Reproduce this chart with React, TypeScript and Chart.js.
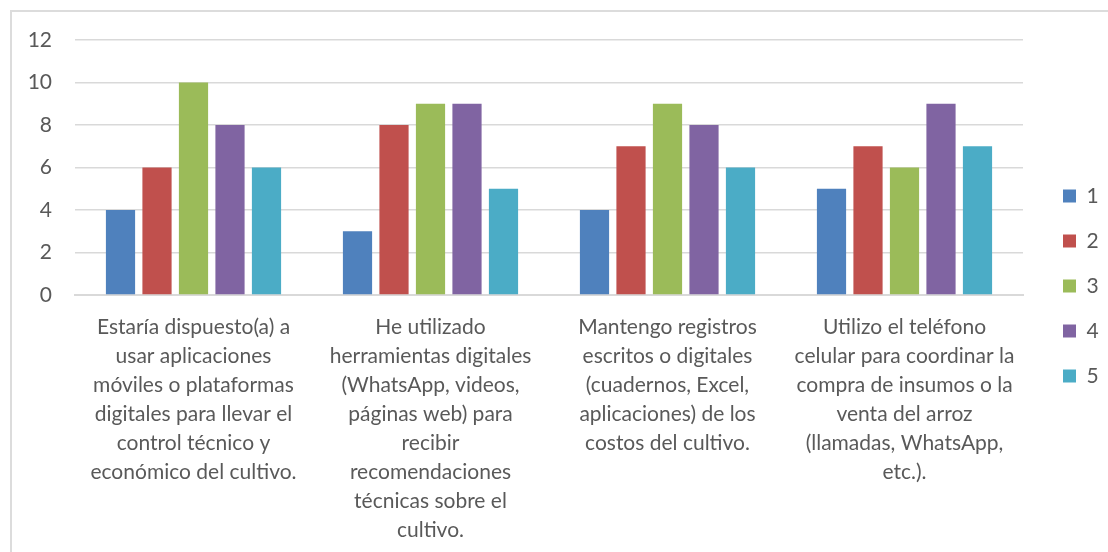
import React, { useEffect, useRef } from "react";
import { Chart, registerables } from "chart.js";

Chart.register(...registerables);

const categories: string[][] = [
  ["Estaría dispuesto(a) a", "usar aplicaciones", "móviles o plataformas", "digitales para llevar el", "control técnico y", "económico del cultivo."],
  ["He utilizado", "herramientas digitales", "(WhatsApp, videos,", "páginas web) para", "recibir", "recomendaciones", "técnicas sobre el", "cultivo."],
  ["Mantengo registros", "escritos o digitales", "(cuadernos, Excel,", "aplicaciones) de los", "costos del cultivo."],
  ["Utilizo el teléfono", "celular para coordinar la", "compra de insumos o la", "venta del arroz", "(llamadas, WhatsApp,", "etc.)."],
];

const seriesNames = ["1", "2", "3", "4", "5"];
const series1 = [4, 3, 4, 5];
const series2 = [6, 8, 7, 7];
const series3 = [10, 9, 9, 6];
const series4 = [8, 9, 8, 9];
const series5 = [6, 5, 6, 7];
const seriesColors = ["#4F81BD", "#C0504D", "#9BBB59", "#8064A2", "#4BACC6"];
const yTicks = [0, 2, 4, 6, 8, 10, 12];

const FONT = "Lato, 'Open Sans', sans-serif";

const legendPlacer = {
  id: "legendPlacer",
  beforeLayout(chart: any) {
    const lg = chart.legend;
    if (lg && !lg.__patched) {
      const orig = lg.fit.bind(lg);
      lg.fit = function () {
        orig();
        this.width = 85;
      };
      lg.__patched = true;
    }
  },
  afterLayout(chart: any) {
    const lg = chart.legend;
    if (lg) {
      lg.left += 16;
      lg.top -= 10;
      lg.bottom -= 10;
    }
  },
};

export default function App() {
  const ref = useRef<HTMLCanvasElement | null>(null);

  useEffect(() => {
    if (!ref.current) return;
    const values = [series1, series2, series3, series4, series5];
    const chart = new Chart(ref.current, {
      type: "bar",
      data: {
        labels: categories,
        datasets: values.map((v, i) => ({
          label: seriesNames[i],
          data: v,
          backgroundColor: seriesColors[i],
          borderWidth: 0,
          categoryPercentage: 0.77,
          barPercentage: 0.8,
        })),
      },
      plugins: [legendPlacer],
      options: {
        responsive: false,
        animation: false,
        layout: { padding: { top: 40, left: 0, right: 0, bottom: 0 } },
        plugins: {
          tooltip: { enabled: false },
          legend: {
            position: "right",
            labels: {
              boxWidth: 13,
              boxHeight: 13,
              padding: 24,
              color: "#595959",
              font: { family: FONT, size: 21 },
            },
          },
        },
        scales: {
          x: {
            grid: { display: false, drawTicks: false },
            border: { display: true, color: "#d9d9d9", width: 2 },
            ticks: {
              autoSkip: false,
              maxRotation: 0,
              minRotation: 0,
              padding: 18,
              color: "#595959",
              font: { family: FONT, size: 21, lineHeight: "29px" },
            },
            afterFit: (s: any) => {
              s.height = 257;
            },
          },
          y: {
            min: 0,
            max: 12,
            afterBuildTicks: (s: any) => {
              s.ticks = yTicks.map((v) => ({ value: v }));
            },
            grid: { color: "#d9d9d9", lineWidth: 1.5, drawTicks: false },
            border: { display: false },
            ticks: {
              padding: 23,
              color: "#595959",
              font: { family: FONT, size: 21 },
            },
            afterFit: (s: any) => {
              s.width = 75;
            },
          },
        },
      },
    });
    return () => chart.destroy();
  }, []);

  return (
    <div style={{ position: "fixed", left: 0, top: 0, width: 1108, height: 552, background: "#fff", overflow: "hidden" }}>
      <div
        style={{
          position: "absolute",
          left: 10,
          top: 10,
          width: 1110,
          height: 560,
          border: "2px solid #dcdcdc",
          boxSizing: "border-box",
        }}
      />
      <canvas ref={ref} width={1108} height={552} style={{ position: "absolute", left: 0, top: 0 }} />
    </div>
  );
}
